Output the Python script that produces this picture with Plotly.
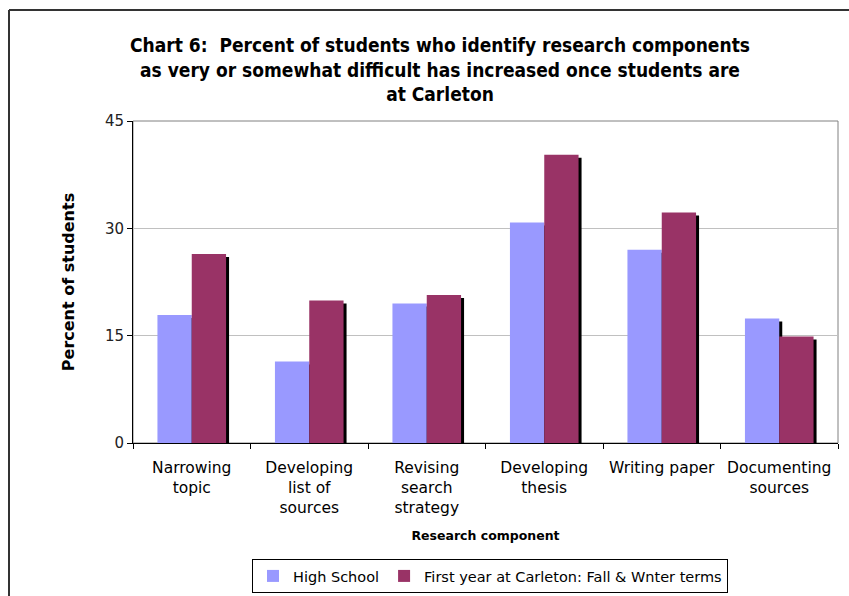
import plotly.graph_objects as go

# Survey results: share of students rating each research step as difficult
components = [
    "Narrowing<br>topic",
    "Developing<br>list of<br>sources",
    "Revising<br>search<br>strategy",
    "Developing<br>thesis",
    "Writing paper",
    "Documenting<br>sources",
]
high_school = [17.9, 11.4, 19.5, 30.8, 27.0, 17.4]
first_year = [26.4, 19.9, 20.7, 40.3, 32.2, 14.9]

series_names = ["High School", "First year at Carleton: Fall & Wnter terms"]
series_colors = ["#9999FF", "#993366"]

y_ticks = [0, 15, 30, 45]

W, H = 849, 596
M_L, M_R, M_T, M_B = 133, 11, 121, 153
PLOT_W = W - M_L - M_R
PLOT_H = H - M_T - M_B

BAR_W = 0.292            # width of one bar, in category units
SHADOW_DX = 3 / (PLOT_W / len(components))   # 3 px drop shadow, horizontal
SHADOW_DY = 3 / (PLOT_H / 45)                # 3 px drop shadow, vertical


def px_x(px):
    return (px - M_L) / PLOT_W


def px_y(py):
    return (H - M_B - py) / PLOT_H


fig = go.Figure()

for i, (name, vals, color) in enumerate(zip(series_names, [high_school, first_year], series_colors)):
    off = -BAR_W + i * BAR_W
    # drop shadow behind each bar
    fig.add_trace(go.Bar(
        x=components, y=[v - SHADOW_DY for v in vals],
        width=BAR_W, offset=off + SHADOW_DX,
        marker=dict(color="#000000", line=dict(width=0)),
        showlegend=False, hoverinfo="skip",
    ))
    fig.add_trace(go.Bar(
        x=components, y=vals, name=name,
        width=BAR_W, offset=off,
        marker=dict(color=color, line=dict(width=0)),
    ))

fig.update_layout(
    width=W, height=H,
    margin=dict(l=M_L, r=M_R, t=M_T, b=M_B, autoexpand=False),
    paper_bgcolor="white", plot_bgcolor="white",
    barmode="overlay",
    font=dict(family="DejaVu Sans, Verdana, sans-serif", size=15, color="#000000"),
    title=dict(
        text="<b>Chart 6:  Percent of students who identify research components<br>"
             "as very or somewhat difficult has increased once students are<br>"
             "at Carleton</b>",
        font=dict(family="DejaVu Sans Condensed, Tahoma, Liberation Sans, sans-serif", size=19, color="#000000"),
        x=440 / W, xref="container", xanchor="center",
        y=1 - 52 / H, yref="container", yanchor="top",
    ),
    xaxis=dict(
        showline=True, linecolor="#000000", linewidth=1,
        ticks="outside", ticklen=5, tickcolor="#000000", tickson="boundaries",
        showgrid=False, automargin=False,
        tickfont=dict(size=15.5, color="#000000"),
        ticklabelstandoff=10,
        title=dict(text="<b>Research component</b>", standoff=15,
                   font=dict(size=12.5, color="#000000")),
    ),
    yaxis=dict(
        range=[0, 45], tickvals=y_ticks, automargin=False,
        showline=True, linecolor="#000000", linewidth=1,
        ticks="outside", ticklen=5, tickcolor="#000000",
        showgrid=True, gridcolor="#C0C0C0", gridwidth=1, zeroline=False,
        tickfont=dict(size=15, color="#222222"),
        title=dict(text="<b>Percent of students</b>", standoff=26,
                   font=dict(size=16, color="#000000")),
    ),
    legend=dict(
        orientation="h",
        x=px_x(490), xanchor="center",
        y=px_y(576), yanchor="middle",
        bordercolor="#000000", borderwidth=1,
        font=dict(size=14.5, color="#000000"),
        itemwidth=30, tracegroupgap=0,
    ),
    shapes=[
        # plot area frame (top and right edges show in grey)
        dict(type="rect", xref="paper", yref="paper", x0=0, x1=1, y0=0, y1=1,
             line=dict(color="#808080", width=1), layer="below"),
        # outer chart frame
        dict(type="line", xref="paper", yref="paper",
             x0=px_x(9), x1=px_x(9), y0=px_y(10), y1=px_y(H + 10),
             line=dict(color="#333333", width=2)),
        dict(type="line", xref="paper", yref="paper",
             x0=px_x(9), x1=px_x(W + 10), y0=px_y(10), y1=px_y(10),
             line=dict(color="#333333", width=2)),
    ],
)

fig.write_html("out.html")
